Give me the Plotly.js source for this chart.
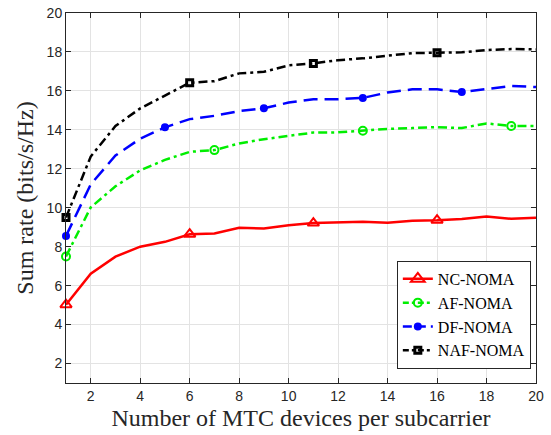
<!DOCTYPE html>
<html>
<head>
<meta charset="utf-8">
<script src="https://cdn.plot.ly/plotly-3.0.1.min.js"></script>
<style>html,body{margin:0;padding:0;background:#fff;}#chart{width:551px;height:435px;}</style>
</head>
<body>
<div id="chart"></div>
<script>
// Data
var devices = [1,2,3,4,5,6,7,8,9,10,11,12,13,14,15,16,17,18,19,20];
var ncNoma  = [5.02,6.61,7.49,8.0,8.25,8.64,8.68,8.97,8.93,9.1,9.21,9.24,9.28,9.23,9.33,9.36,9.42,9.55,9.43,9.49];
var afNoma  = [7.5,10.02,11.1,11.92,12.46,12.87,12.96,13.3,13.52,13.69,13.86,13.87,13.95,14.05,14.09,14.14,14.09,14.33,14.2,14.2];
var dfNoma  = [8.55,11.2,12.68,13.55,14.13,14.55,14.72,14.96,15.11,15.4,15.57,15.57,15.64,15.92,16.08,16.08,15.94,16.08,16.25,16.2];
var nafNoma = [9.5,12.63,14.2,15.1,15.76,16.42,16.5,16.9,16.98,17.31,17.41,17.58,17.67,17.82,17.94,17.96,17.98,18.1,18.15,18.13];
var seriesNames = ['NC-NOMA','AF-NOMA','DF-NOMA','NAF-NOMA'];
var xTicks = [2,4,6,8,10,12,14,16,18,20];
var yTicks = [2,4,6,8,10,12,14,16,18,20];

var seriesData = [ncNoma, afNoma, dfNoma, nafNoma];
var styles = [
  {color:'#ff0000', dash:'solid', legDash:'solid', symbol:'triangle-up-open', size:10, legSize:12, mlw:2, every:5},
  {color:'#00ee00', dash:'9px,4px,3px,4px', legDash:'6px,3px,3px,3px', symbol:'circle-open', size:8, legSize:8, mlw:2, every:6},
  {color:'#0000ff', dash:'14px,7px', legDash:'9px,5px', symbol:'circle', size:8, legSize:8, mlw:0, every:4},
  {color:'#000000', dash:'9px,4px,3px,4px', legDash:'6px,3px,3px,3px', symbol:'square-open', size:6, legSize:6, mlw:3, every:5}
];

var traces = [];
seriesData.forEach(function(ys, i){
  var s = styles[i];
  traces.push({x:devices, y:ys, mode:'lines', showlegend:false, hoverinfo:'skip', cliponaxis:false,
    line:{color:s.color, width:2.5, dash:s.dash}});
  var mx = [], my = [];
  devices.forEach(function(d, k){ if(k % s.every === 0){ mx.push(d); my.push(ys[k]); } });
  traces.push({x:mx, y:my, mode:'markers', showlegend:false, hoverinfo:'skip', cliponaxis:false,
    marker:{color:s.color, symbol:s.symbol, size:s.size, line:{color:s.color, width:s.mlw}}});
});
seriesData.forEach(function(ys, i){
  var s = styles[i];
  traces.push({x:[null], y:[null], name:seriesNames[i], mode:'lines+markers',
    line:{color:s.color, width:2.5, dash:s.legDash},
    marker:{color:s.color, symbol:s.symbol, size:s.legSize, line:{color:s.color, width:s.mlw}}});
});

var axisCommon = {
  showline:true, linecolor:'#262626', linewidth:1, mirror:'ticks',
  ticks:'inside', ticklen:5, tickwidth:1, tickcolor:'#262626',
  showgrid:true, gridcolor:'#e3e3e3', gridwidth:1, zeroline:false,
  tickfont:{family:'Liberation Sans, Arial, sans-serif', size:14, color:'#262626'},
  range:[1,20], tickmode:'array'
};

var layout = {
  width:551, height:435,
  margin:{l:66, r:15, t:13, b:52},
  paper_bgcolor:'#ffffff', plot_bgcolor:'#ffffff',
  xaxis: Object.assign({}, axisCommon, {tickvals:xTicks, ticktext:xTicks.map(String),
    title:{text:'Number of MTC devices per subcarrier', standoff:6,
      font:{family:'Liberation Serif, Times New Roman, serif', size:24, color:'#262626'}}}),
  yaxis: Object.assign({}, axisCommon, {tickvals:yTicks, ticktext:yTicks.map(String),
    title:{text:'Sum rate (bits/s/Hz)', standoff:6,
      font:{family:'Liberation Serif, Times New Roman, serif', size:24, color:'#262626'}}}),
  legend:{x:0.989, y:0.038, xanchor:'right', yanchor:'bottom',
    bgcolor:'#ffffff', bordercolor:'#262626', borderwidth:1,
    font:{family:'Liberation Serif, Times New Roman, serif', size:16, color:'#000000'},
    tracegroupgap:0},
  showlegend:true
};

Plotly.newPlot('chart', traces, layout, {staticPlot:true, displayModeBar:false});
</script>
</body>
</html>
